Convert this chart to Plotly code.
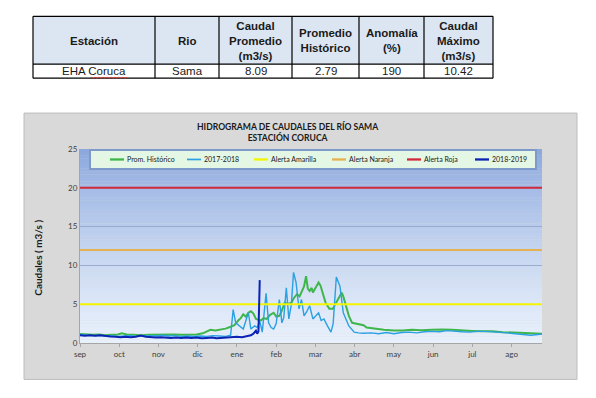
import plotly.graph_objects as go

# ---------------- data ----------------
table_headers = ["Estación", "Rio", "Caudal<br>Promedio<br>(m3/s)", "Promedio<br>Histórico",
                 "Anomalía<br>(%)", "Caudal<br>Máximo<br>(m3/s)"]
table_row = ["EHA Coruca", "Sama", "8.09", "2.79", "190", "10.42"]

month_labels = ["sep", "oct", "nov", "dic", "ene", "feb", "mar", "abr", "may", "jun", "jul", "ago"]
month_ticks = [0, 31, 62, 93, 124, 155, 186, 217, 248, 279, 310, 341]

hist_days = [0, 5, 10, 15, 20, 25, 30, 33, 37, 42, 48, 55, 62, 68, 74, 80, 86, 92, 97, 100, 103, 107,
             111, 115, 119, 122, 125, 127, 129, 131, 133, 135, 137, 139, 141, 143, 145, 147.6, 150, 153,
             155, 157.5, 159.5, 161.7, 164, 167, 169, 171.5, 173.5, 175.8, 177, 178.6, 180, 181.4, 183,
             184, 186, 188.5, 190, 191, 192.5, 194, 195.5, 197, 199.7, 202.5, 205, 206.8, 208, 209.6,
             212.4, 215, 218, 221, 224, 226.5, 230, 235, 240, 248, 255, 262, 270, 278, 286, 294, 302,
             310, 318, 326, 334, 340, 346, 352, 358, 365]
hist_vals = [1.15, 1.1, 1.05, 1.1, 1.0, 1.05, 1.1, 1.25, 1.1, 1.05, 1.0, 1.05, 1.1, 1.05, 1.1, 1.05,
             1.1, 1.1, 1.25, 1.45, 1.7, 1.6, 1.7, 1.85, 2.1, 2.3, 2.9, 3.2, 3.7, 3.4, 3.9, 4.1, 3.8, 3.1,
             3.0, 2.9, 3.2, 3.1, 3.6, 3.9, 3.4, 3.5, 4.2, 5.2, 5.0, 5.2, 5.8, 6.3, 6.0, 6.9, 7.3, 8.6,
             7.0, 6.7, 7.1, 6.5, 7.0, 7.8, 7.4, 6.9, 6.0, 5.2, 4.8, 4.4, 4.4, 5.2, 5.8, 6.5, 6.0, 5.2,
             3.5, 2.6, 2.5, 2.4, 2.3, 2.0, 1.9, 1.8, 1.7, 1.6, 1.6, 1.7, 1.65, 1.7, 1.75, 1.7, 1.6,
             1.55, 1.5, 1.5, 1.4, 1.35, 1.3, 1.25, 1.2, 1.2]

y1718_days = [0, 5, 10, 15, 20, 25, 30, 35, 40, 45, 50, 55, 60, 65, 70, 75, 80, 85, 90, 95, 100, 105,
              110, 115, 119, 121, 123, 126, 129, 133, 135, 138, 140, 142, 144, 147, 149, 151, 153, 155,
              157.5, 159.5, 161, 163, 165, 167, 168.7, 170.7, 173, 175, 177, 179, 181.4, 184, 186,
              188.5, 190.5, 192.7, 195.5, 198.3, 200, 202.5, 205.4, 208, 212.4, 216.6, 220, 224, 230,
              236, 242, 248, 254, 260, 266, 272, 278, 284, 290, 296, 302, 308, 314, 320, 326, 332,
              338, 344, 350, 356, 362, 365]
y1718_vals = [1.1, 1.0, 0.95, 1.0, 0.9, 0.95, 0.85, 0.9, 0.95, 0.85, 0.9, 0.95, 0.9, 1.0, 0.9, 0.95,
              0.85, 0.9, 0.85, 0.9, 0.85, 0.95, 0.9, 0.85, 1.0, 4.3, 2.6, 2.2, 1.8, 3.9, 1.8, 2.2, 2.0,
              2.8, 1.4, 6.4, 2.6, 2.0, 1.8, 2.5, 5.6, 2.6, 3.3, 7.1, 3.1, 5.0, 9.1, 7.8, 4.4, 5.6, 3.5,
              4.0, 4.8, 3.1, 3.5, 3.9, 2.9, 3.1, 2.2, 1.4, 2.5, 8.5, 7.3, 3.9, 2.2, 1.4, 1.3, 1.25, 1.3,
              1.2, 1.35, 1.2, 1.35, 1.4, 1.3, 1.45, 1.5, 1.45, 1.6, 1.5, 1.45, 1.4, 1.5, 1.5, 1.45,
              1.4, 1.3, 1.2, 1.1, 1.0, 1.1, 1.15]

y1819_days = [0, 4, 8, 12, 16, 20, 24, 28, 32, 36, 40, 44, 48, 52, 56, 60, 64, 68, 72, 76, 80, 84,
              88, 92, 96, 100, 104, 108, 112, 116, 120, 124, 128, 132, 135, 137, 139, 140, 141, 142]
y1819_vals = [1.0, 0.95, 1.0, 0.95, 1.0, 0.9, 0.85, 0.8, 0.75, 0.8, 0.75, 0.8, 0.95, 0.8, 0.75, 0.7,
              0.75, 0.7, 0.65, 0.7, 0.65, 0.7, 0.65, 0.7, 0.6, 0.65, 0.7, 0.6, 0.65, 0.7, 0.7, 0.8,
              0.75, 0.9, 1.0, 1.2, 1.6, 1.2, 1.5, 8.1]

alert_names = ["Alerta Amarilla", "Alerta Naranja", "Alerta Roja"]
alert_levels = [5, 12, 20]
season_span = [0, 365]

# ---------------- layout geometry ----------------
W, H = 596, 398
ML, MR, MT, MB = 80, 54, 149, 54.5
PW, PH = W - ML - MR, H - MT - MB
FONT = "Lato, Carlito, sans-serif"


def px2x(px):
    return (px - ML) / PW


def py2y(py):
    return (H - MB - py) / PH


fig = go.Figure()

series = []  # (name, color, width) in legend order
fig.add_trace(go.Scatter(x=hist_days, y=hist_vals, mode="lines", name="Prom. Histórico",
                         line=dict(color="#3fb649", width=2)))
series.append(("Prom. Histórico", "#3fb649", 2))
fig.add_trace(go.Scatter(x=y1718_days, y=y1718_vals, mode="lines", name="2017-2018",
                         line=dict(color="#2ba0e2", width=1.4)))
series.append(("2017-2018", "#2ba0e2", 1.4))
alert_colors = ["#f4f400", "#e4b250", "#d02a3a"]
for nm, lv, col in zip(alert_names, alert_levels, alert_colors):
    fig.add_trace(go.Scatter(x=season_span, y=[lv, lv], mode="lines", name=nm,
                             line=dict(color=col, width=2)))
    series.append((nm, col, 2))
fig.add_trace(go.Scatter(x=y1819_days, y=y1819_vals, mode="lines", name="2018-2019",
                         line=dict(color="#0c22b4", width=2)))
series.append(("2018-2019", "#0c22b4", 2))

shapes = []
annotations = []
# outer grey chart box
shapes.append(dict(type="rect", xref="paper", yref="paper", layer="below",
                   x0=px2x(24), x1=px2x(577), y0=py2y(380), y1=py2y(113),
                   fillcolor="#d9d9d9", line=dict(color="#bcbcbc", width=1)))
# gradient background of plot area
stops = [(0, (0xe9, 0xf0, 0xfb)), (5, (0xdc, 0xe7, 0xf8)), (12, (0xc5, 0xd5, 0xf0)),
         (20, (0xa4, 0xbb, 0xe6)), (25, (0x8b, 0xa7, 0xdc))]
n = 60
for i in range(n):
    v0 = 25 * i / n
    v1 = 25 * (i + 1) / n
    vm = (v0 + v1) / 2
    for (a, ca), (b, cb) in zip(stops[:-1], stops[1:]):
        if a <= vm <= b:
            t = (vm - a) / (b - a)
            c = tuple(int(round(ca[k] + (cb[k] - ca[k]) * t)) for k in range(3))
            break
    shapes.append(dict(type="rect", xref="x domain", yref="y", layer="below",
                       x0=0, x1=1, y0=v0, y1=v1 + 0.02,
                       fillcolor="rgb(%d,%d,%d)" % c, line=dict(width=0)))

# legend box (drawn by hand for Excel-like compact spacing)
shapes.append(dict(type="rect", xref="paper", yref="paper",
                   x0=px2x(90), x1=px2x(536), y0=py2y(169), y1=py2y(150),
                   fillcolor="#e4f6e4", line=dict(color="#7d9acb", width=2)))
leg_x = [110, 187, 254, 332, 407, 475]
for (nm, col, wd), lx in zip(series, leg_x):
    shapes.append(dict(type="line", xref="paper", yref="paper",
                       x0=px2x(lx), x1=px2x(lx + 14), y0=py2y(159.5), y1=py2y(159.5),
                       line=dict(color=col, width=wd + 0.3)))
    annotations.append(dict(text=nm, x=px2x(lx + 14.5), y=py2y(159.5), xref="paper", yref="paper",
                            showarrow=False, xanchor="left", yanchor="middle",
                            font=dict(family=FONT, size=7, color="#1a1a1a")))

# table
col_edges = [33, 155, 219, 292, 359, 424, 493]
row_edges = [16, 64, 78]
shapes.append(dict(type="rect", xref="paper", yref="paper",
                   x0=px2x(col_edges[0]), x1=px2x(col_edges[-1]),
                   y0=py2y(row_edges[1]), y1=py2y(row_edges[0]),
                   fillcolor="#dce6f2", line=dict(width=0)))
for xe in col_edges:
    shapes.append(dict(type="line", xref="paper", yref="paper",
                       x0=px2x(xe), x1=px2x(xe), y0=py2y(row_edges[-1]), y1=py2y(row_edges[0]),
                       line=dict(color="#000000", width=1.2)))
for ye in row_edges:
    shapes.append(dict(type="line", xref="paper", yref="paper",
                       x0=px2x(col_edges[0]), x1=px2x(col_edges[-1]), y0=py2y(ye), y1=py2y(ye),
                       line=dict(color="#000000", width=1.2)))
# spell-check squiggle under "Coruca"
zig = "M %f,%f" % (px2x(91), py2y(77))
for k in range(1, 19):
    zig += " L %f,%f" % (px2x(91 + 2 * k), py2y(77 + (1 if k % 2 else 0)))
shapes.append(dict(type="path", xref="paper", yref="paper", path=zig,
                   line=dict(color="#e03030", width=0.8)))

for i, h in enumerate(table_headers):
    xc = (col_edges[i] + col_edges[i + 1]) / 2
    annotations.append(dict(text="<b>%s</b>" % h, x=px2x(xc), y=py2y(40.5), xref="paper", yref="paper",
                            showarrow=False, xanchor="center", yanchor="middle",
                            font=dict(family="Liberation Sans, Arial", size=11.5, color="#1a1a1a")))
for i, v in enumerate(table_row):
    xc = (col_edges[i] + col_edges[i + 1]) / 2
    annotations.append(dict(text=v, x=px2x(xc), y=py2y(71), xref="paper", yref="paper",
                            showarrow=False, xanchor="center", yanchor="middle",
                            font=dict(family="Liberation Sans, Arial", size=11.5, color="#1a1a1a")))

# chart title
annotations.append(dict(text="<b>HIDROGRAMA DE CAUDALES DEL RÍO SAMA<br>ESTACIÓN CORUCA</b>",
                        x=px2x(288), y=py2y(132), xref="paper", yref="paper", showarrow=False,
                        xanchor="center", yanchor="middle",
                        font=dict(family=FONT, size=8.6, color="#1a1a1a")))
# y axis title
annotations.append(dict(text="<b>Caudales ( m3/s )</b>", x=px2x(38), y=py2y(258), xref="paper",
                        yref="paper", showarrow=False, textangle=-90, xanchor="center",
                        yanchor="middle",
                        font=dict(family=FONT, size=10, color="#1a1a1a")))

fig.update_layout(
    width=W, height=H,
    margin=dict(l=ML, r=MR, t=MT, b=MB, pad=0),
    paper_bgcolor="#ffffff",
    plot_bgcolor="#e9f0fb",
    shapes=shapes,
    annotations=annotations,
    showlegend=False,
    xaxis=dict(range=[0, 365], tickvals=month_ticks, ticktext=month_labels, showgrid=False,
               zeroline=False, showline=True, linecolor="#a6a6a6", linewidth=1,
               ticks="outside", ticklen=3, tickcolor="#a6a6a6",
               tickfont=dict(family=FONT, size=8, color="#404040")),
    yaxis=dict(range=[0, 25], dtick=5, showgrid=True, gridcolor="#9aaccb", gridwidth=1,
               zeroline=False, showline=True, linecolor="#a6a6a6", linewidth=1,
               ticks="", tickfont=dict(family=FONT, size=8, color="#404040")),
)

fig.write_html("out.html", config={"displayModeBar": False},
               post_script="document.body.style.margin='0';")
